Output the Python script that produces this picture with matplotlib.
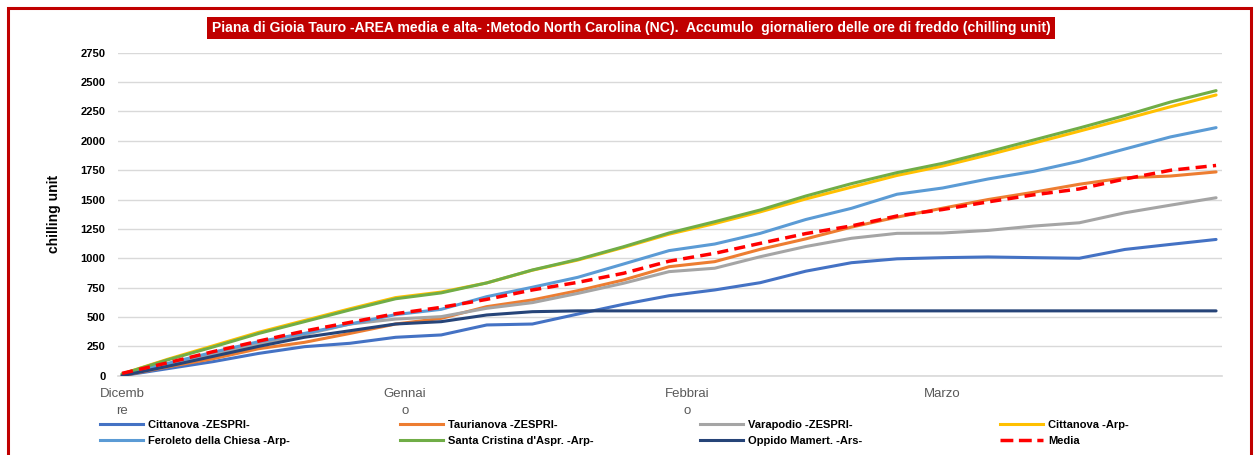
import matplotlib
matplotlib.use("Agg")
import matplotlib.pyplot as plt
import matplotlib.patches as mpatches
from matplotlib.lines import Line2D

# days from 1 December, one reading every 5 days
days = [0, 5, 10, 15, 20, 25, 30, 35, 40, 45, 50, 55, 60,
        65, 70, 75, 80, 85, 90, 95, 100, 105, 110, 115, 120]

cittanova_zespri = [0, 60, 120, 190, 247, 276, 327, 347, 432, 440, 525, 608, 681,
                    730, 792, 890, 962, 995, 1005, 1011, 1005, 1000, 1075, 1118, 1160]
taurianova_zespri = [0, 75, 145, 230, 284, 360, 440, 488, 588, 645, 724, 815, 928,
                     971, 1076, 1165, 1265, 1350, 1426, 1500, 1562, 1630, 1685, 1700, 1735]
varapodio_zespri = [10, 95, 180, 270, 350, 440, 482, 503, 574, 622, 701, 787, 886,
                    915, 1013, 1100, 1170, 1212, 1215, 1237, 1274, 1302, 1387, 1452, 1515]
cittanova_arp = [15, 140, 255, 370, 470, 570, 665, 712, 790, 898, 985, 1092, 1205,
                 1295, 1395, 1505, 1605, 1705, 1785, 1880, 1980, 2082, 2185, 2290, 2390]
feroleto_arp = [10, 105, 200, 290, 360, 440, 520, 565, 673, 753, 838, 951, 1065,
                1121, 1212, 1330, 1425, 1545, 1598, 1675, 1740, 1826, 1930, 2033, 2112]
santa_cristina_arp = [15, 135, 245, 360, 460, 560, 655, 705, 790, 900, 990, 1098, 1215,
                      1311, 1411, 1530, 1635, 1729, 1808, 1905, 2007, 2109, 2215, 2330, 2427]
oppido_ars = [0, 80, 165, 250, 327, 383, 440, 460, 517, 545, 552, 552, 552,
              552, 552, 552, 552, 552, 552, 552, 552, 552, 552, 552, 552]
media = [20, 110, 205, 295, 380, 454, 528, 582, 650, 730, 795, 872, 975,
         1042, 1127, 1210, 1275, 1360, 1415, 1480, 1540, 1590, 1675, 1749, 1790]

month_ticks = [0, 31, 62, 90]
month_labels = ["Dicemb\nre", "Gennai\no", "Febbrai\no", "Marzo"]

title = ("Piana di Gioia Tauro -AREA media e alta- :Metodo North Carolina (NC).  "
         "Accumulo  giornaliero delle ore di freddo (chilling unit)")

plt.rcParams['font.family'] = ['Liberation Sans', 'DejaVu Sans']

W, H = 1255, 455
fig = plt.figure(figsize=(W / 100, H / 100), dpi=100)
ax = fig.add_axes([118 / W, 1 - 375.7 / H, (1222 - 118) / W, (375.7 - 52.7) / H])

series = [
    ("Cittanova -ZESPRI-", cittanova_zespri, "#4472C4", "-"),
    ("Taurianova -ZESPRI-", taurianova_zespri, "#ED7D31", "-"),
    ("Varapodio -ZESPRI-", varapodio_zespri, "#A5A5A5", "-"),
    ("Cittanova -Arp-", cittanova_arp, "#FFC000", "-"),
    ("Feroleto della Chiesa -Arp-", feroleto_arp, "#5B9BD5", "-"),
    ("Santa Cristina d'Aspr. -Arp-", santa_cristina_arp, "#70AD47", "-"),
    ("Oppido Mamert. -Ars-", oppido_ars, "#264478", "-"),
    ("Media", media, "#FF0000", (0, (3.2, 1.8))),
]

handles = {}
for name, vals, col, ls in series:
    lw = 2.5 if name == "Media" else 2.2
    ln, = ax.plot(days, vals, color=col, lw=lw, linestyle=ls,
                  solid_capstyle='round', solid_joinstyle='round')
    handles[name] = ln

ax.set_xlim(-0.45, 120.65)
ax.set_ylim(0, 2750)
ax.set_yticks(range(0, 2751, 250))
ax.grid(axis='y', color='#D9D9D9', lw=1)
ax.axhline(0, color='#D9D9D9', lw=1.2, zorder=0.5, clip_on=False)
ax.set_axisbelow(True)
for s in ax.spines.values():
    s.set_visible(False)
ax.tick_params(axis='y', length=0, pad=9, labelsize=8)
for t in ax.get_yticklabels():
    t.set_fontweight('bold')
ax.set_xticks(month_ticks)
ax.set_xticklabels(month_labels, color='#595959', fontsize=9.5, linespacing=1.55,
                   multialignment='center')
ax.tick_params(axis='x', length=0, pad=9)
ax.set_ylabel("chilling unit", fontsize=10, fontweight='bold', labelpad=14)

# title box
fig.text(631 / W, 1 - 28 / H, title, ha='center', va='center', color='white',
         fontsize=10.1, fontweight='bold',
         bbox=dict(boxstyle='square,pad=0.32', fc='#C00000', ec='none'))

# outer red frame
fig.add_artist(mpatches.Rectangle((8 / W, -0.05), (1251 - 8) / W, 1.05 - 8.5 / H,
                                  transform=fig.transFigure, fill=False,
                                  ec='#C00000', lw=2.2))

# legend, four columns of two rows
columns = [("Cittanova -ZESPRI-", "Feroleto della Chiesa -Arp-"),
           ("Taurianova -ZESPRI-", "Santa Cristina d'Aspr. -Arp-"),
           ("Varapodio -ZESPRI-", "Oppido Mamert. -Ars-"),
           ("Cittanova -Arp-", "Media")]
col_x = [100, 400, 700, 1000]
for xpix, names in zip(col_x, columns):
    hs = []
    for n in names:
        src = handles[n]
        hs.append(Line2D([], [], color=src.get_color(), lw=src.get_linewidth(),
                         linestyle=src.get_linestyle()))
    leg = fig.legend(hs, names, loc='upper left', bbox_to_anchor=(xpix / W, 1 - 420 / H),
                     frameon=False, fontsize=8, handlelength=3.9, handletextpad=0.4,
                     labelspacing=0.5, borderpad=0, borderaxespad=0)
    for t in leg.get_texts():
        t.set_fontweight('bold')

fig.savefig("out.png", dpi=100)
